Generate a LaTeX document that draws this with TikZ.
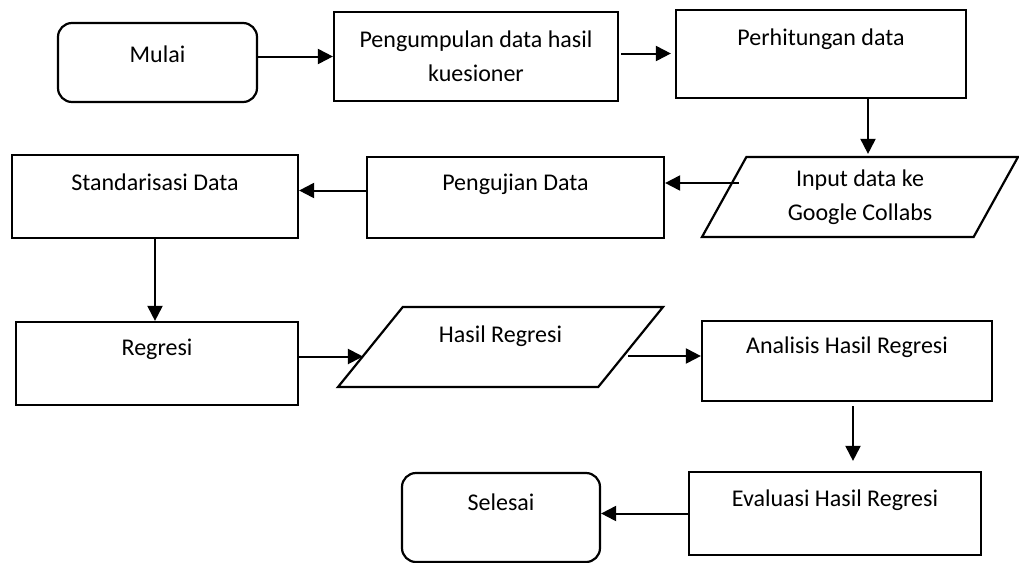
\documentclass[tikz,border=0pt]{standalone}
\usepackage{fontspec}
\setmainfont{Carlito}
\usetikzlibrary{arrows.meta,shapes.geometric}

\begin{document}
\begin{tikzpicture}[x=0.5pt,y=-0.5pt,font=\fontsize{12}{17}\selectfont,
  proc/.style={draw,line width=1.1pt,inner sep=0pt,text height=17pt,text depth=24pt},
  term/.style={proc,rounded corners=7pt},
  io/.style={draw,line width=1.1pt,trapezium,trapezium left angle=51,
    trapezium right angle=129,trapezium stretches body,inner sep=0pt},
  arr/.style={-{Triangle[length=7.5pt,width=7.5pt]},line width=1pt}]

\useasboundingbox (0,0) rectangle (1019,563);

% baris atas
\node[term,minimum width=99.5pt,text height=19.5pt,text depth=20pt] (mulai) at (157.5,62.5) {Mulai};
\node[draw,line width=1.1pt,minimum width=142pt,minimum height=44.5pt,align=center] (kumpul) at (476,56.5) {Pengumpulan data hasil\\kuesioner};
\node[proc,minimum width=145pt,text height=17.5pt,text depth=26.5pt] (hitung) at (821,54) {Perhitungan data};

% baris kedua
\node[io,minimum width=158pt,minimum height=40pt,align=center] (input) at (860,197) {Input data ke\\Google Collabs};
\node[proc,minimum width=148.5pt,text height=16.5pt] (uji) at (515.5,197.5) {Pengujian Data};
\node[proc,minimum width=143pt,text height=17.5pt] (standar) at (155,196.5) {Standarisasi Data};

% baris ketiga
\node[proc,minimum width=141pt,text height=16.5pt,text depth=25pt] (regresi) at (157,363.5) {Regresi};
\node[io,text height=17.5pt,text depth=22.5pt,minimum width=162.5pt] (hasil) at (500.5,347) {Hasil Regresi};
\node[proc,minimum width=145pt,text height=16pt] (analisis) at (847,361) {Analisis Hasil Regresi};

% baris bawah
\node[proc,minimum width=146pt,text depth=24.5pt] (evaluasi) at (835,513.5) {Evaluasi Hasil Regresi};
\node[term,minimum width=99pt,text height=18.5pt,text depth=26pt] (selesai) at (501,517.5) {Selesai};

\draw[arr] (mulai.east |- kumpul.west) -- (kumpul.west);
\draw[arr] ([yshift=1.5pt,xshift=1pt]kumpul.east) -- ([yshift=1.5pt,xshift=-2pt]hitung.west |- kumpul.east);
\draw[arr] ([xshift=4pt]input.north |- hitung.south) -- ([xshift=4pt,yshift=1pt]input.north);
\draw[arr] ([yshift=7pt,xshift=8pt]input.west) -- ([yshift=7pt]uji.east |- input.west);
\draw[arr] ([yshift=3.5pt]uji.west) -- ([yshift=3.5pt]uji.west -| standar.east);
\draw[arr] (standar.south) -- (standar.south |- regresi.north);
\draw[arr] ([yshift=3.5pt]regresi.east) -- ([yshift=3.5pt,xshift=-3pt]regresi.east -| hasil.west);
\draw[arr] ([yshift=-4.5pt,xshift=-2pt]hasil.east) -- ([yshift=-4.5pt]hasil.east -| analisis.west);
\draw[arr] ([xshift=3pt,yshift=-2pt]analisis.south) -- ([xshift=3pt,yshift=5pt]analisis.south |- evaluasi.north);
\draw[arr] (evaluasi.west) -- (evaluasi.west -| selesai.east);

\end{tikzpicture}
\end{document}
